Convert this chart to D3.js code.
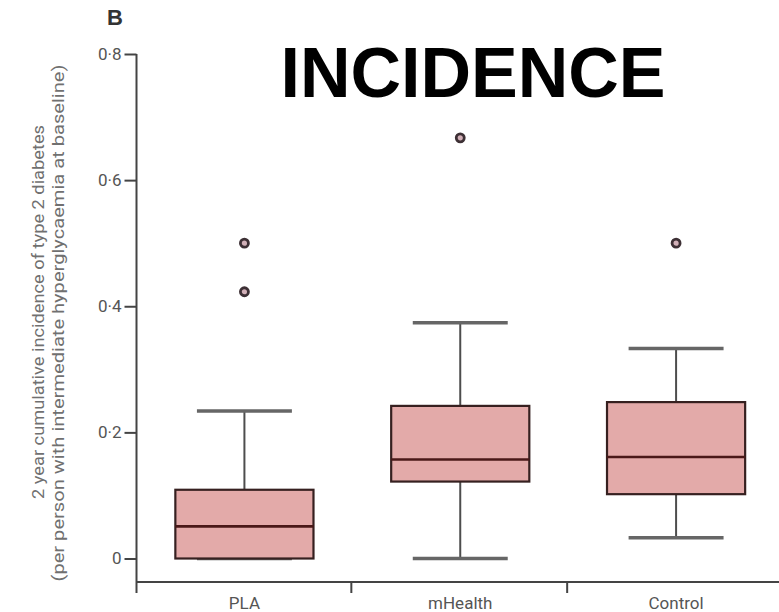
<!DOCTYPE html>
<html>
<head>
<meta charset="utf-8">
<script src="https://cdn.jsdelivr.net/npm/d3@7"></script>
<style>
  html, body { margin: 0; padding: 0; background: #fff; }
  svg { display: block; }
  .tick text { font-family: "Liberation Sans Narrow", "Roboto", sans-serif; fill: #555; }
</style>
</head>
<body>
<div id="chart"></div>
<script>
// box plot values
const categories = ["PLA", "mHealth", "Control"];
const lowerWhisker = [0, 0, 0.033];
const q1 = [0, 0.122, 0.102];
const median = [0.051, 0.157, 0.161];
const q3 = [0.109, 0.242, 0.248];
const upperWhisker = [0.234, 0.374, 0.333];
const outliers = [[0.5, 0.423], [0.667], [0.5]];
const yTicks = [0, 0.2, 0.4, 0.6, 0.8];

const width = 779, height = 612;

const svg = d3.select("#chart").append("svg")
    .attr("width", width)
    .attr("height", height);

const x = d3.scaleBand()
    .domain(categories)
    .range([136.5, 784])
    .padding(0);

const y = d3.scaleLinear()
    .domain([0, 0.8])
    .range([558.5, 54]);

const axisY = 582;
const axisLeftX = 136.5;
const boxW = x.bandwidth() * 0.64;
const capW = x.bandwidth() * 0.44;

// y axis
const yAxis = svg.append("g")
    .attr("transform", `translate(${axisLeftX},0)`)
    .call(d3.axisLeft(y)
        .tickValues(yTicks)
        .tickSize(12)
        .tickPadding(3)
        .tickFormat(d => d === 0 ? "0" : d3.format(".1f")(d).replace(".", "·")));
yAxis.select(".domain").remove();
yAxis.selectAll(".tick line").attr("stroke", "#444").attr("stroke-width", 2);
yAxis.selectAll(".tick text").attr("font-size", 17).attr("dy", "0.3em");

svg.append("line")
    .attr("x1", axisLeftX).attr("x2", axisLeftX)
    .attr("y1", y(0.8)).attr("y2", axisY + 11)
    .attr("stroke", "#444").attr("stroke-width", 2);

// x axis: line, boundary ticks, centred labels
svg.append("line")
    .attr("x1", axisLeftX).attr("x2", width)
    .attr("y1", axisY).attr("y2", axisY)
    .attr("stroke", "#444").attr("stroke-width", 2);

const bounds = categories.map(c => x(c)).concat([x(categories[categories.length - 1]) + x.bandwidth()]);
svg.selectAll(".xbound")
    .data(bounds.slice(1))
    .join("line")
    .attr("class", "xbound")
    .attr("x1", d => d - 1).attr("x2", d => d - 1)
    .attr("y1", axisY).attr("y2", axisY + 11)
    .attr("stroke", "#444").attr("stroke-width", 2);

const xAxis = svg.append("g")
    .attr("transform", `translate(0,${axisY})`)
    .call(d3.axisBottom(x).tickSize(0).tickPadding(15));
xAxis.select(".domain").remove();
xAxis.selectAll(".tick text").attr("font-size", 17);

// boxes
const groups = svg.selectAll(".box")
    .data(categories)
    .join("g")
    .attr("class", "box")
    .attr("transform", d => `translate(${x(d) + x.bandwidth() / 2},0)`);

// whisker stems
groups.append("line")
    .attr("x1", 0).attr("x2", 0)
    .attr("y1", (d, i) => y(upperWhisker[i]))
    .attr("y2", (d, i) => y(lowerWhisker[i]))
    .attr("stroke", "#4d4d4d").attr("stroke-width", 2);

// whisker caps
groups.selectAll(".cap")
    .data((d, i) => [upperWhisker[i], lowerWhisker[i]])
    .join("line")
    .attr("class", "cap")
    .attr("x1", -capW / 2).attr("x2", capW / 2)
    .attr("y1", d => y(d)).attr("y2", d => y(d))
    .attr("stroke", "#666").attr("stroke-width", 3.5);

groups.append("rect")
    .attr("x", -boxW / 2)
    .attr("width", boxW)
    .attr("y", (d, i) => y(q3[i]))
    .attr("height", (d, i) => y(q1[i]) - y(q3[i]))
    .attr("fill", "#e3aaa9")
    .attr("stroke", "#362020")
    .attr("stroke-width", 2.2);

groups.append("line")
    .attr("x1", -boxW / 2).attr("x2", boxW / 2)
    .attr("y1", (d, i) => y(median[i]))
    .attr("y2", (d, i) => y(median[i]))
    .attr("stroke", "#4a1818").attr("stroke-width", 2.6);

groups.selectAll(".outlier")
    .data((d, i) => outliers[i])
    .join("circle")
    .attr("class", "outlier")
    .attr("cx", 0)
    .attr("cy", d => y(d))
    .attr("r", 4)
    .attr("fill", "#d2b0b8")
    .attr("stroke", "#3d3035")
    .attr("stroke-width", 2.8);

// y axis title, two lines
const yTitle = [
    { text: "2 year cumulative incidence of type 2 diabetes", x: 44, cy: 312, len: 374 },
    { text: "(per person with intermediate hyperglycaemia at baseline)", x: 64, cy: 323, len: 517 }
];
svg.selectAll(".ytitle")
    .data(yTitle)
    .join("text")
    .attr("class", "ytitle")
    .attr("transform", d => `translate(${d.x},${d.cy}) rotate(-90)`)
    .attr("text-anchor", "middle")
    .attr("font-family", "'Liberation Sans Narrow', Roboto, sans-serif")
    .attr("font-size", 17)
    .attr("fill", "#707070")
    .attr("textLength", d => d.len)
    .attr("lengthAdjust", "spacingAndGlyphs")
    .text(d => d.text);

// panel letter and big heading
svg.append("text")
    .attr("x", 115).attr("y", 25)
    .attr("text-anchor", "middle")
    .attr("font-family", "'Liberation Sans', Arial, sans-serif")
    .attr("font-weight", "bold")
    .attr("font-size", 22)
    .attr("fill", "#333")
    .text("B");

svg.append("text")
    .attr("x", 473).attr("y", 97)
    .attr("text-anchor", "middle")
    .attr("font-family", "'Liberation Sans', Arial, sans-serif")
    .attr("font-weight", "bold")
    .attr("font-size", 70)
    .attr("fill", "#000")
    .text("INCIDENCE");
</script>
</body>
</html>
